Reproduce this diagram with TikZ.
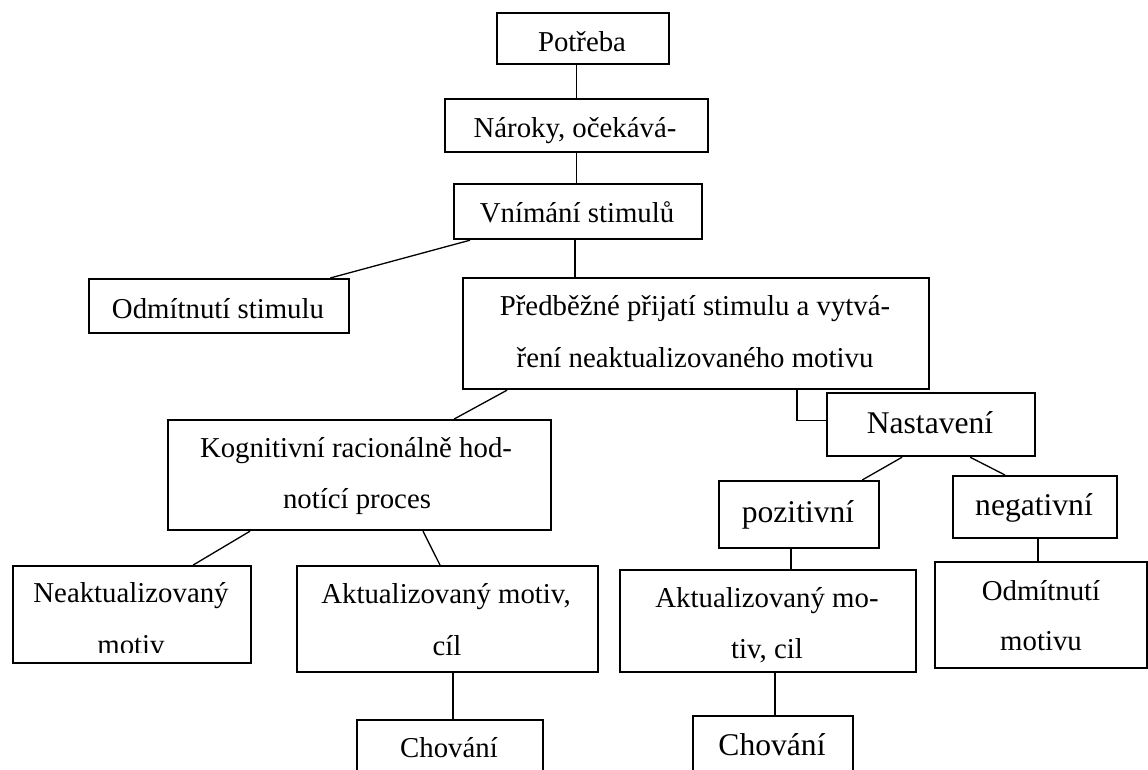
\documentclass[tikz,border=0pt]{standalone}
\usepackage{fontspec}
\setmainfont{Liberation Serif}
\tikzset{
  box/.style={draw, line width=2.2pt, rectangle, inner sep=0pt, anchor=north west},
  conn/.style={line width=1.3pt},
  tx/.style={anchor=base, inner sep=0pt, font=\fontsize{28.8}{34}\selectfont},
  tlarge/.style={anchor=base, inner sep=0pt, font=\fontsize{31.6}{38}\selectfont},
}
\begin{document}
\begin{tikzpicture}[x=1pt, y=-1pt]
\useasboundingbox (0,0) rectangle (1148,769);
\clip (0,0) rectangle (1148,769);
\fill[white] (0,0) rectangle (1148,769);

% boxes
\node[box, minimum width=172pt, minimum height=51pt] (pot) at (496,12) {};
\node[box, minimum width=263pt, minimum height=53pt] (nar) at (444,98) {};
\node[box, minimum width=248pt, minimum height=55pt] (vni) at (453,183) {};
\node[box, minimum width=260pt, minimum height=54pt] (ods) at (88,278) {};
\node[box, minimum width=466pt, minimum height=111pt] (pre) at (462,277) {};
\node[box, minimum width=383pt, minimum height=110pt] (kog) at (167,419) {};
\node[box, minimum width=208pt, minimum height=63pt] (nas) at (826,392) {};
\node[box, minimum width=160pt, minimum height=67pt] (poz) at (718,480) {};
\node[box, minimum width=164pt, minimum height=62pt] (neg) at (952,475) {};
\node[box, minimum width=238pt, minimum height=97pt] (nea) at (12,565) {};
\node[box, minimum width=301pt, minimum height=106pt] (akta) at (296,565) {};
\node[box, minimum width=296pt, minimum height=102pt] (aktb) at (619,569) {};
\node[box, minimum width=212pt, minimum height=106pt] (odm) at (934,561) {};
\node[box, minimum width=186pt, minimum height=81pt] (choa) at (356,719) {};
\node[box, minimum width=160pt, minimum height=85pt] (chob) at (692,715) {};

% texts
\node[tx] (pot-t) at (582,51) {Potřeba};
\node[tx] (nar-t) at (575,137) {Nároky, očekává-};
\node[tx] (vni-t) at (577,222) {Vnímání stimulů};
\node[tx] (ods-t) at (218,318) {Odmítnutí stimulu};
\node[tx] (pre-t1) at (695,315) {Předběžné přijatí stimulu a vytvá-};
\node[tx] (pre-t2) at (695,367) {ření neaktualizovaného motivu};
\node[tx] (kog-t1) at (356,457) {Kognitivní racionálně hod-};
\node[tx] (kog-t2) at (357,508) {notící proces};
\node[tlarge] (nas-t) at (930,433) {Nastavení};
\node[tlarge] (poz-t) at (798,522) {pozitivní};
\node[tlarge] (neg-t) at (1034,515) {negativní};
\node[tx] (nea-t1) at (131,602) {Neaktualizovaný};
\begin{scope}
  \clip (12,565) rectangle (250,652);
  \node[tx] (nea-t2) at (131,654) {motiv};
\end{scope}
\node[tx] (akta-t1) at (446,603) {Aktualizovaný motiv,};
\node[tx] (akta-t2) at (447,655) {cíl};
\node[tx] (aktb-t1) at (767,607) {Aktualizovaný mo-};
\node[tx] (aktb-t2) at (767,658) {tiv, cil};
\node[tx] (odm-t1) at (1041,600) {Odmítnutí};
\node[tx] (odm-t2) at (1041,650) {motivu};
\node[tx] (choa-t) at (449,757) {Chování};
\node[tlarge] (chob-t) at (772,755) {Chování};

% connectors
\draw[conn] (pot.south -| nar.north) -- (nar.north);
\draw[conn] (nar.south) -- (nar.south |- vni.north);
\draw[conn] ([xshift=17pt]vni.south west) -- ([xshift=-20pt]ods.north east);
\coordinate (c1) at ([xshift=-3pt]vni.south);
\draw[conn] (c1) -- (c1 |- pre.north);
\draw[conn] ([xshift=45pt]pre.south west) -- ([xshift=-98pt]kog.north east);
\coordinate (c2) at ([xshift=335pt]pre.south west);
\draw[conn] (c2) |- ([yshift=4pt]nas.west);
\draw[conn] ([xshift=83pt]kog.south west) -- ([xshift=-59pt]nea.north east);
\draw[conn] ([xshift=256pt]kog.south west) -- ([xshift=144pt]akta.north west);
\coordinate (c3) at ([xshift=5.5pt]akta.south);
\draw[conn] (c3) -- (c3 |- choa.north);
\draw[conn] ([xshift=-29pt]nas.south) -- ([xshift=-18pt]poz.north east);
\draw[conn] ([xshift=39pt]nas.south) -- ([xshift=53pt]neg.north west);
\coordinate (c4) at ([xshift=-8pt]poz.south);
\draw[conn] (c4) -- (c4 |- aktb.north);
\coordinate (c5) at ([xshift=3pt]neg.south);
\draw[conn] (c5) -- (c5 |- odm.north);
\coordinate (c6) at ([xshift=7pt]aktb.south);
\draw[conn] (c6) -- (c6 |- chob.north);
\end{tikzpicture}
\end{document}
